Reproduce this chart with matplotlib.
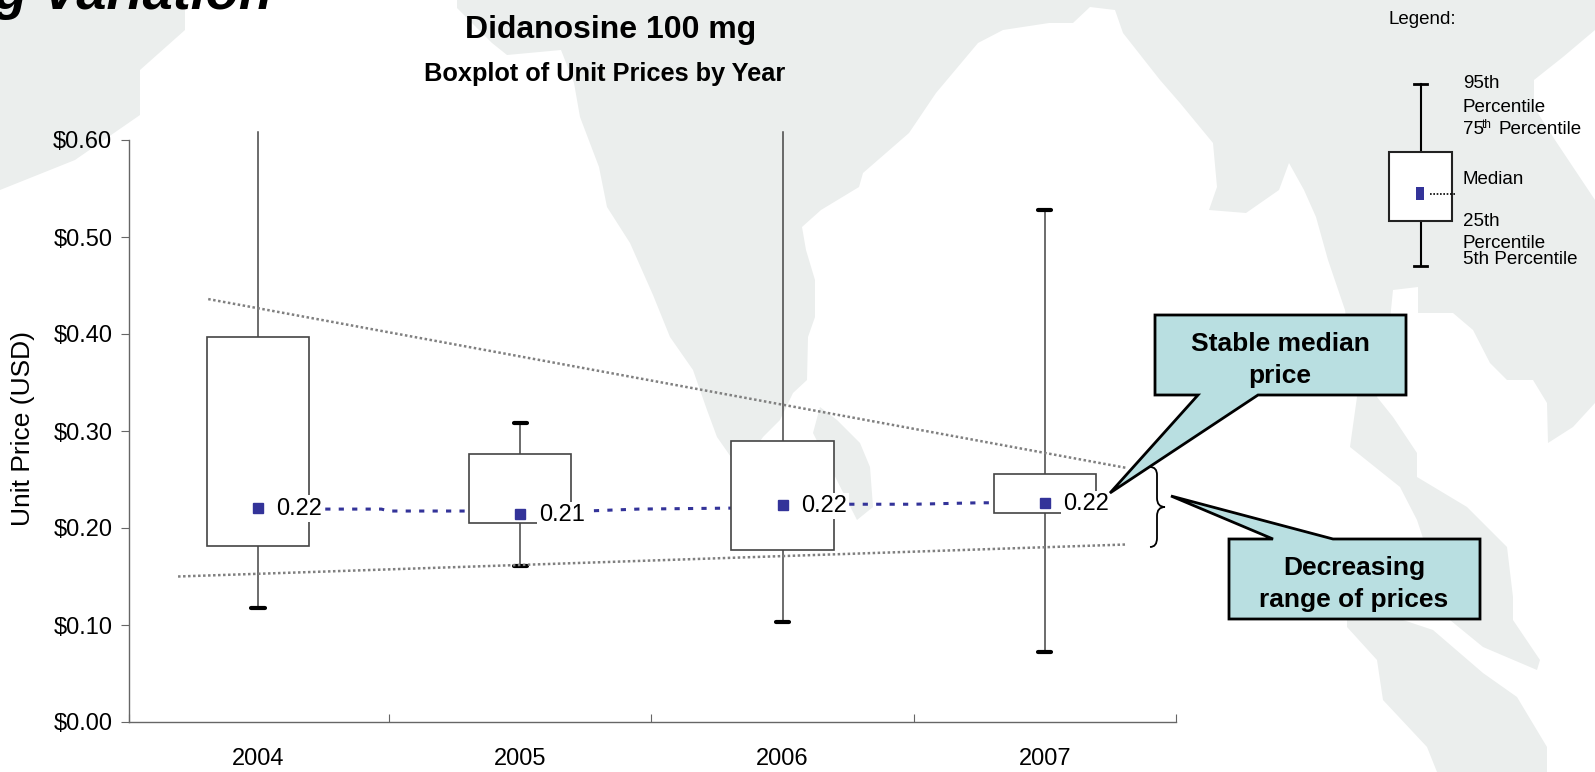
import matplotlib
matplotlib.use("Agg")

import matplotlib.pyplot as plt
from matplotlib.patches import Polygon, Rectangle, PathPatch
from matplotlib.path import Path
from matplotlib.ticker import FuncFormatter

plt.rcParams['font.family'] = ['Liberation Sans', 'DejaVu Sans']

W, H = 1595, 772

# data
years = ['2004', '2005', '2006', '2007']
p95 = [0.608, 0.308, 0.608, 0.528]
p75 = [0.397, 0.276, 0.290, 0.256]
medians = [0.221, 0.214, 0.224, 0.226]
p25 = [0.181, 0.205, 0.177, 0.215]
p05 = [0.118, 0.161, 0.103, 0.072]
median_labels = ['0.22', '0.21', '0.22', '0.22']

# dashed blue line does not sit exactly on the markers in the original
median_line_x = [0, 0.47, 0.5, 1, 1.25, 1.45, 1.8, 2.25, 2.5, 2.75, 3]
median_line_y = [0.2195, 0.2195, 0.2175, 0.2175, 0.2175, 0.2195, 0.2205, 0.2245, 0.2245, 0.226, 0.226]

upper_trend_x = [-0.19, 3.31]
upper_trend_y = [0.436, 0.262]
lower_trend_x = [-0.305, 3.31]
lower_trend_y = [0.150, 0.183]

MAP_COLOR = '#EBEEED'
CALLOUT_COLOR = '#B9DFE1'
BLUE = '#333399'

# background map, in pixels
asia = [(457, 0), (457, 8), (492, 43), (507, 55), (561, 50), (574, 83), (580, 117), (599, 167),
        (607, 207), (630, 243), (653, 295), (670, 337), (693, 370), (707, 410), (717, 437),
        (740, 470), (763, 437), (780, 420), (793, 393), (807, 380), (808, 337), (815, 317),
        (815, 280), (806, 250), (802, 227), (821, 210), (859, 187), (863, 173), (909, 133),
        (936, 93), (978, 43), (1003, 30), (1049, 23), (1073, 23), (1090, 7), (1115, 10),
        (1123, 33), (1160, 80), (1180, 103), (1213, 143), (1217, 187), (1209, 210), (1246, 213),
        (1279, 190), (1289, 163), (1304, 190), (1316, 217), (1328, 260), (1345, 310), (1357, 397),
        (1350, 447), (1400, 487), (1417, 520), (1450, 620), (1483, 647), (1537, 670), (1540, 660),
        (1513, 620), (1513, 597), (1507, 547), (1467, 507), (1417, 477), (1417, 453), (1393, 417),
        (1377, 397), (1390, 320), (1393, 290), (1418, 287), (1418, 313), (1453, 313), (1473, 330),
        (1490, 363), (1507, 380), (1533, 380), (1547, 403), (1548, 443), (1573, 427), (1595, 403),
        (1595, 200), (1555, 140), (1534, 107), (1534, 80), (1563, 57), (1595, 30), (1595, 0)]
corner = [(0, 0), (185, 0), (185, 30), (140, 70), (140, 115), (75, 160), (0, 190)]
sumatra = [(1347, 627), (1377, 660), (1383, 700), (1427, 747), (1437, 772), (1547, 772), (1547, 747),
           (1517, 697), (1483, 673), (1433, 630), (1400, 619), (1347, 619)]
sri_lanka = [(820, 407), (837, 420), (860, 443), (870, 467), (873, 507), (857, 520), (813, 433)]

fig = plt.figure(figsize=(W / 100, H / 100), dpi=100, facecolor='white')

# overlay in pixel coords for background, legend and callouts
bg = fig.add_axes([0, 0, 1, 1], zorder=0)
bg.set_xlim(0, W)
bg.set_ylim(H, 0)
bg.axis('off')
for shape in [asia, corner, sumatra, sri_lanka]:
    bg.add_patch(Polygon(shape, closed=True, fc=MAP_COLOR, ec='none'))

bg.text(272, 9, 'ng Variation', fontsize=39, fontweight='bold', fontstyle='italic',
        ha='right', va='baseline', color='black')
bg.text(611, 30, 'Didanosine 100 mg', fontsize=23, fontweight='bold', ha='center', va='center')
bg.text(605, 74, 'Boxplot of Unit Prices by Year', fontsize=18.3, fontweight='bold', ha='center', va='center')

# main chart
left, right, top, bottom = 129, 1176, 140, 722
ax = fig.add_axes([left / W, 1 - bottom / H, (right - left) / W, (bottom - top) / H], zorder=1)
ax.patch.set_visible(False)
ax.set_xlim(-0.492, 3.5)
ax.set_ylim(0, 0.6)
for s in ['top', 'right']:
    ax.spines[s].set_visible(False)
for s in ['left', 'bottom']:
    ax.spines[s].set_color('#666666')
    ax.spines[s].set_linewidth(1.0)

# ticks sit between the years, labels under the middle of each year
ax.set_xticks([-0.492, 0.5, 1.5, 2.5, 3.5])
ax.set_xticklabels([])
ax.set_xticks(range(4), minor=True)
ax.set_xticklabels(years, minor=True)
ax.tick_params(axis='x', which='major', direction='in', length=6, color='#666666', bottom=True)
ax.tick_params(axis='x', which='minor', length=0, labelsize=17, pad=19)
ax.set_yticks([0, 0.1, 0.2, 0.3, 0.4, 0.5, 0.6])
ax.yaxis.set_major_formatter(FuncFormatter(lambda v, pos: '$%.2f' % v))
ax.tick_params(axis='y', length=6, color='#666666', labelsize=17, pad=6)
ax.set_ylabel('Unit Price (USD)', fontsize=19)
ax.yaxis.set_label_coords(-0.0895, 0.505)

xs = list(range(len(years)))
ax.plot(upper_trend_x, upper_trend_y, color='#808080', lw=1.8, ls=(0, (1, 1)), zorder=3.5)
ax.plot(lower_trend_x, lower_trend_y, color='#808080', lw=1.8, ls=(0, (1, 1)), zorder=3.5)
ax.plot(median_line_x, median_line_y, color=BLUE, lw=2.2, ls=(0, (1.7, 2.7)), zorder=1.5)

box_w = 0.39
for i, x in enumerate(xs):
    ax.plot([x, x], [p75[i], p95[i]], color='#444444', lw=1.1, clip_on=False, zorder=2.5)
    ax.plot([x, x], [p25[i], p05[i]], color='#444444', lw=1.1, zorder=2.5)
    ax.add_patch(Rectangle((x - box_w / 2, p25[i]), box_w, p75[i] - p25[i], fc='white',
                           ec='#444444', lw=1.2, zorder=3))
    # 2004 and 2006 run off the top, no cap there
    if p95[i] < 0.6:
        ax.plot([x - 0.025, x + 0.025], [p95[i]] * 2, color='black', lw=3, solid_capstyle='round', zorder=2.6)
    ax.plot([x - 0.025, x + 0.025], [p05[i]] * 2, color='black', lw=3, solid_capstyle='round', zorder=2.6)
    ax.plot([x], [medians[i]], 's', color=BLUE, ms=6.5, zorder=5)
    ax.text(x + 0.07, medians[i] - 0.001, median_labels[i], fontsize=17, va='center', ha='left', zorder=4,
            bbox=dict(fc='white', ec='none', pad=1.5))

# callouts and brace
fg = fig.add_axes([0, 0, 1, 1], zorder=2)
fg.set_xlim(0, W)
fg.set_ylim(H, 0)
fg.axis('off')

stable = [(1155, 315), (1406, 315), (1406, 395), (1258, 395), (1110, 493), (1198, 395), (1155, 395)]
decreasing = [(1229, 539), (1273, 539), (1171, 496), (1333, 539), (1480, 539), (1480, 619), (1229, 619)]
for shape in [stable, decreasing]:
    fg.add_patch(Polygon(shape, closed=True, fc=CALLOUT_COLOR, ec='black', lw=2, joinstyle='miter'))
fg.text(1280, 344, 'Stable median', fontsize=19, fontweight='bold', ha='center', va='center')
fg.text(1280, 376, 'price', fontsize=19, fontweight='bold', ha='center', va='center')
fg.text(1354, 568, 'Decreasing', fontsize=19, fontweight='bold', ha='center', va='center')
fg.text(1354, 600, 'range of prices', fontsize=19, fontweight='bold', ha='center', va='center')

brace = Path([(1150, 467), (1157, 467), (1157, 475), (1157, 498), (1157, 507), (1165, 507),
              (1157, 507), (1157, 516), (1157, 538), (1157, 547), (1150, 547)],
             [Path.MOVETO, Path.CURVE3, Path.CURVE3, Path.LINETO, Path.CURVE3, Path.CURVE3,
              Path.CURVE3, Path.CURVE3, Path.LINETO, Path.CURVE3, Path.CURVE3])
fg.add_patch(PathPatch(brace, fc='none', ec='black', lw=1.3))

# legend
fg.text(1388, 19, 'Legend:', fontsize=13.5, ha='left', va='center')
fg.plot([1421, 1421], [84, 266], color='black', lw=1.5)
fg.plot([1414, 1427], [84, 84], color='black', lw=2)
fg.plot([1414, 1427], [266, 266], color='black', lw=2)
fg.add_patch(Rectangle((1389, 152), 63, 69, fc='white', ec='#222222', lw=1.5, zorder=3))
fg.add_patch(Rectangle((1416, 187), 8, 13, fc=BLUE, ec='none', zorder=4))
fg.plot([1430, 1456], [193.5, 193.5], color='black', lw=1.2, ls=(0, (1, 1)), zorder=4)
for txt, y in [('95th', 84), ('Percentile', 107), ('Median', 180), ('25th', 222), ('Percentile', 243),
               ('5th Percentile', 259)]:
    fg.text(1463, y, txt, fontsize=13.5, ha='left', va='center')
fg.text(1463, 130, '75', fontsize=13.5, ha='left', va='center')
fg.text(1482, 125, 'th', fontsize=8.5, ha='left', va='center')
fg.text(1499, 130, 'Percentile', fontsize=13.5, ha='left', va='center')

fig.savefig('out.png', dpi=100)
